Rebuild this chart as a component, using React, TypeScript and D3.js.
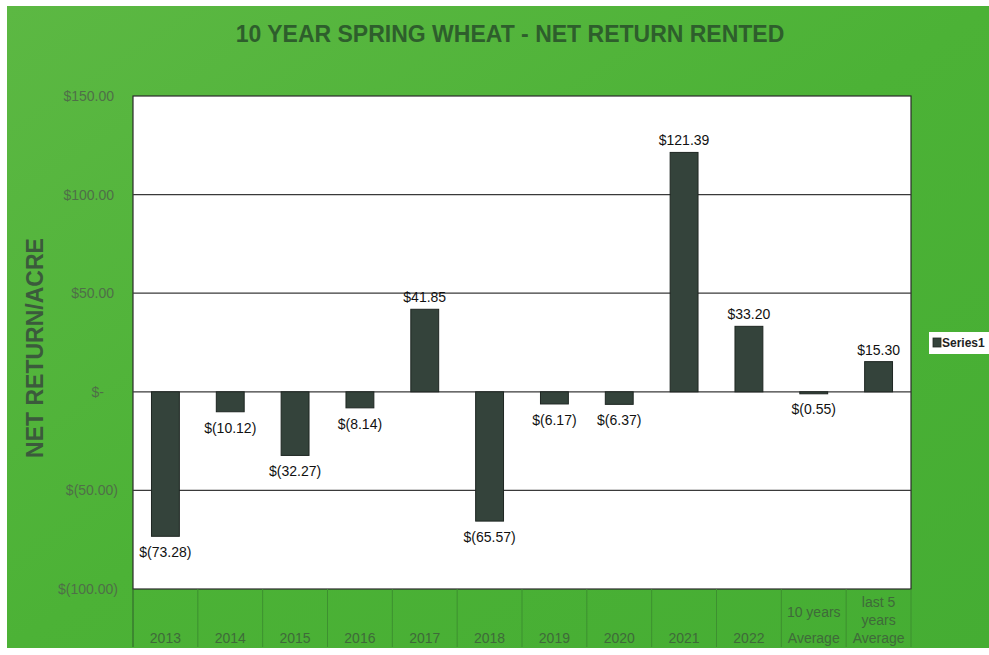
import React from "react";
import * as d3 from "d3";

const categories = ["2013","2014","2015","2016","2017","2018","2019","2020","2021","2022","10 years Average","last 5 years Average"];
const categoryLines = [["2013"],["2014"],["2015"],["2016"],["2017"],["2018"],["2019"],["2020"],["2021"],["2022"],["10 years","Average"],["last 5","years","Average"]];
const values = [-73.28,-10.12,-32.27,-8.14,41.85,-65.57,-6.17,-6.37,121.39,33.20,-0.55,15.30];
const yTicks = [150,100,50,0,-50,-100];
const title = "10 YEAR SPRING WHEAT - NET RETURN RENTED";
const yTitle = "NET RETURN/ACRE";
const seriesName = "Series1";

const W = 989, H = 655;
const plot = { left: 133, right: 911, top: 96, bottom: 589 };
const tableBottom = 647;

function fmtLabel(v: number) {
  const s = d3.format(",.2f")(Math.abs(v));
  return v < 0 ? `$(${s})` : `$${s}`;
}
function fmtTick(v: number) {
  if (v === 0) return "$-";
  const s = d3.format(",.2f")(Math.abs(v));
  return v < 0 ? `$(${s})` : `$${s}`;
}

export default function App() {
  const x = d3.scaleBand<string>().domain(categories).range([plot.left, plot.right]).paddingInner(0).paddingOuter(0);
  const y = d3.scaleLinear().domain([-100, 150]).range([plot.bottom, plot.top]);
  const bw = x.bandwidth() * 0.43;
  const font = "'Liberation Sans', Arial, sans-serif";
  return (
    <div style={{ position: "fixed", left: 0, top: 0 }}>
      <svg width={W} height={H} style={{ display: "block" }}>
        <defs>
          <linearGradient id="bg" x1="0" y1="0" x2="1" y2="1">
            <stop offset="0" stopColor="#5cb843" />
            <stop offset="0.5" stopColor="#4cb236" />
            <stop offset="1" stopColor="#45ad33" />
          </linearGradient>
        </defs>
        <rect x={0} y={0} width={W} height={H} fill="#ffffff" />
        <rect x={7} y={6} width={W - 7} height={648 - 6} fill="url(#bg)" />
        <text x={510} y={42} textAnchor="middle" fontFamily={font} fontWeight="bold" fontSize={23} fill="#2e5e2c">{title}</text>
        <rect x={plot.left} y={plot.top} width={plot.right - plot.left} height={plot.bottom - plot.top} fill="#ffffff" stroke="#2a2a2a" strokeWidth={1.2} />
        {yTicks.filter(t => t !== 150 && t !== -100).map(t => (
          <line key={t} x1={plot.left} x2={plot.right} y1={y(t)} y2={y(t)} stroke="#3a3a3a" strokeWidth={1.2} />
        ))}
        {yTicks.map(t => (
          <text key={"l" + t} x={t > 0 ? 114 : t === 0 ? 104 : 118} y={y(t) + 5} textAnchor="end" fontFamily={font} fontSize={14} fill="#4f6f48">{fmtTick(t)}</text>
        ))}
        <text transform={`translate(43,348) rotate(-90)`} textAnchor="middle" fontFamily={font} fontWeight="bold" fontSize={23} fill="#3b5a3c">{yTitle}</text>
        {/* category table */}
        {categories.map((c, i) => (
          <line key={"v" + c} x1={x(c)!} x2={x(c)!} y1={plot.bottom} y2={tableBottom} stroke={i === 0 ? "#2e5e2a" : "#3d9030"} strokeWidth={1} />
        ))}
        <line x1={plot.right} x2={plot.right} y1={plot.bottom} y2={tableBottom} stroke="#3d9030" strokeWidth={1} />
        {categories.map((c, i) => {
          const lines = categoryLines[i];
          const cx = x(c)! + x.bandwidth() / 2;
          return lines.map((ln, j) => (
            <text key={c + j} x={cx} y={643 - (lines.length - 1 - j) * (lines.length === 3 ? 18 : 26)} textAnchor="middle" fontFamily={font} fontSize={14} fill="#3f6a3a">{ln}</text>
          ));
        })}
        {/* bars */}
        {categories.map((c, i) => {
          const v = values[i];
          const cx = x(c)! + x.bandwidth() / 2;
          const y0 = y(0), y1 = y(v);
          return (
            <g key={"b" + c}>
              <rect x={cx - bw / 2} y={Math.min(y0, y1)} width={bw} height={Math.max(Math.abs(y1 - y0), 2)} fill="#34433b" stroke="#1e2622" strokeWidth={1} />
              <text x={cx} y={v >= 0 ? y1 - 7 : y1 + 21} textAnchor="middle" fontFamily={font} fontSize={14} fill="#111">{fmtLabel(v)}</text>
            </g>
          );
        })}
        {/* legend */}
        <rect x={929} y={332} width={61} height={22} fill="#ffffff" />
        <rect x={933} y={338} width={8} height={9} fill="#34433b" stroke="#1e2622" strokeWidth={0.8} />
        <text x={942} y={347} fontFamily={font} fontWeight="bold" fontSize={12} fill="#222">{seriesName}</text>
      </svg>
    </div>
  );
}
